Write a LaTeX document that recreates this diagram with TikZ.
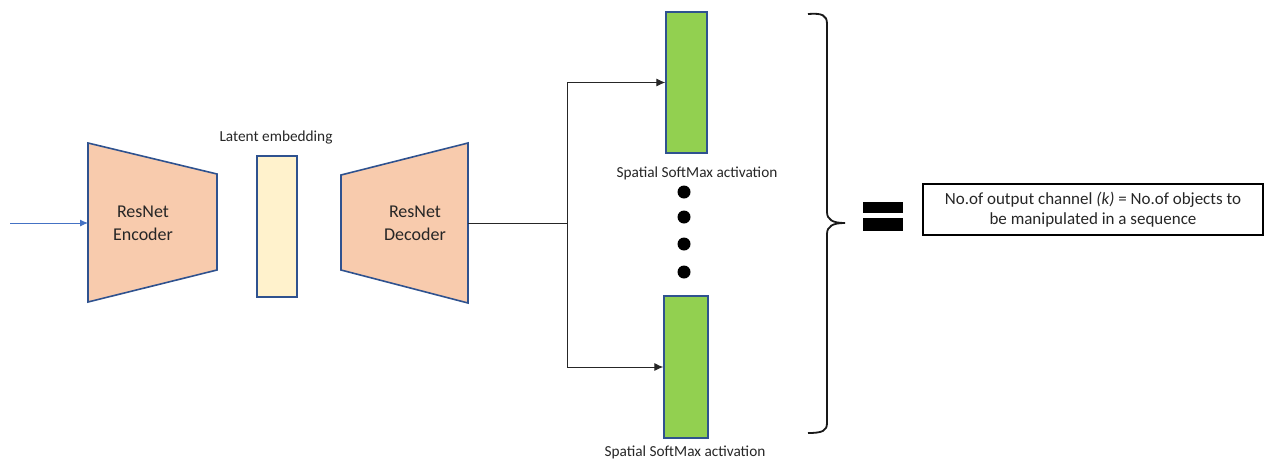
\documentclass[tikz,border=0pt]{standalone}
\usepackage{fontspec}
\setmainfont{Carlito}
\usetikzlibrary{arrows.meta}
\definecolor{edgeblue}{RGB}{47,82,143}
\definecolor{peach}{RGB}{248,203,173}
\definecolor{latent}{RGB}{255,242,204}
\definecolor{lgreen}{RGB}{146,208,80}
\definecolor{inblue}{RGB}{68,114,196}
\tikzset{
  block/.style={draw=edgeblue, line width=1.6pt, fill=peach, line join=miter},
  bartall/.style={draw=edgeblue, line width=1.4pt, inner sep=0pt},
  blocktext/.style={font=\fontsize{18}{23}\selectfont, align=center, text=black!85},
  lbl/.style={font=\fontsize{15.3}{18}\selectfont, text=black!85},
  conn/.style={line width=0.9pt, draw=black!85},
  dotnode/.style={circle, fill=black, inner sep=0pt, minimum size=13pt},
}
\begin{document}
\begin{tikzpicture}[x=1pt, y=-1pt]
\useasboundingbox (0,0) rectangle (1272,461);
% encoder
\coordinate (encL) at (88,223);
\draw[block] (88,143) -- (217,174) -- (217,270) -- (88,302) -- cycle;
\node[blocktext] (enc) at (143,223) {ResNet\\Encoder};
% decoder
\coordinate (decR) at (468,223);
\draw[block] (341,175) -- (468,143) -- (468,303) -- (341,270) -- cycle;
\node[blocktext] (dec) at (415,223) {ResNet\\Decoder};
% latent
\node[bartall, fill=latent, minimum width=40pt, minimum height=141pt] (lat) at (277,226.5) {};
\node[lbl] (latlbl) at (276,137) {Latent embedding};
% input
\coordinate (inp) at (10,223);
\draw[draw=inblue, line width=0.9pt, -{Latex[length=8pt,width=7pt]}] (inp) -- (encL);
% green bars
\node[bartall, fill=lgreen, minimum width=41pt, minimum height=141pt] (g1) at (686.5,82.5) {};
\node[bartall, fill=lgreen, minimum width=44pt, minimum height=142pt] (g2) at (686,367) {};
\node[lbl] (s1) at (697,173) {Spatial SoftMax activation};
\node[lbl] (s2) at (685,452) {Spatial SoftMax activation};
% connectors
\coordinate (split) at (567,223);
\draw[conn] (decR) -- (split);
\draw[conn, -{Latex[length=9pt,width=8pt]}] (split) |- (g1.west);
\draw[conn, -{Latex[length=9pt,width=8pt]}] (split) |- (g2.west);
% dots
\node[dotnode] (d1) at (684,192) {};
\node[dotnode] (d2) at (684,217) {};
\node[dotnode] (d3) at (684,244) {};
\node[dotnode] (d4) at (684,272) {};
% brace
\draw[line width=1.8pt, black!90] (808,14) .. controls (822,13) and (827,15) .. (827,24) -- (827,212)
  .. controls (827,220) and (833,223) .. (845,223)
  .. controls (833,223) and (827,226) .. (827,234) -- (827,423)
  .. controls (827,431) and (822,433) .. (808,433);
% equals
\fill[black] (863,202) rectangle (903,213);
\fill[black] (863,218) rectangle (903,231);
% result box
\node[draw=black, line width=1.4pt, minimum width=340pt, minimum height=51pt, align=center,
  font=\fontsize{17}{20}\selectfont, text=black!85] (res) at (1093,209.5)
  {No.of output channel \textit{(k)} = No.of objects to\\be manipulated in a sequence};
\end{tikzpicture}
\end{document}
